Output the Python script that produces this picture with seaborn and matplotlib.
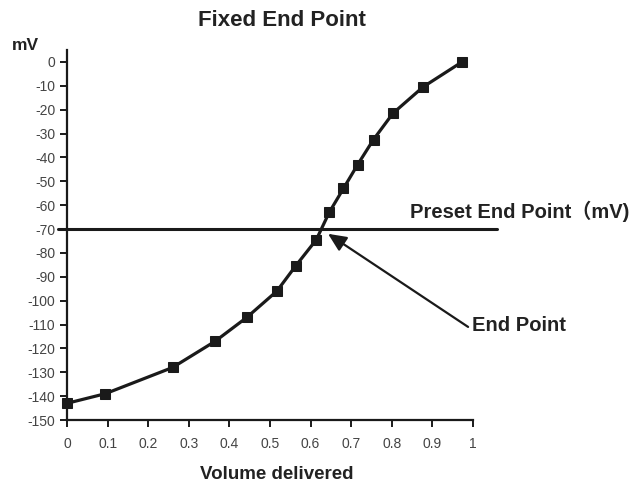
import numpy as np
import pandas as pd
import matplotlib
matplotlib.use("Agg")
import matplotlib.pyplot as plt
import seaborn as sns

# titration curve
volume = [0.0, 0.094, 0.26, 0.365, 0.443, 0.517, 0.563, 0.614, 0.646, 0.681,
          0.716, 0.755, 0.803, 0.877, 0.973]
mv = [-143, -139, -128, -117, -107, -96, -85.5, -74.5, -63, -53,
      -43, -32.5, -21.5, -10.5, 0]
preset_end_point = -70
end_point = (0.643, -72)
end_point_label = (0.988, -111)

x_ticks = [0, 0.1, 0.2, 0.3, 0.4, 0.5, 0.6, 0.7, 0.8, 0.9, 1]
x_tick_labels = ["0", "0.1", "0.2", "0.3", "0.4", "0.5", "0.6", "0.7", "0.8", "0.9", "1"]
y_ticks = list(range(0, -151, -10))

df = pd.DataFrame({"Volume": volume, "mV": mv})

sns.set_style("ticks")
plt.rcParams["font.family"] = ["Liberation Sans", "Noto Sans CJK JP", "DejaVu Sans"]
plt.rcParams["axes.unicode_minus"] = False

fig = plt.figure(figsize=(6.34, 4.84), dpi=100)
ax = fig.add_axes([0.1057, 0.1322, 0.6403, 0.7645])

sns.lineplot(data=df, x="Volume", y="mV", ax=ax, color="#1a1a1a", linewidth=2.3,
             marker="s", markersize=7, markeredgecolor="#1a1a1a",
             markerfacecolor="#1a1a1a", clip_on=False, zorder=4)

# preset end point line, runs past the axis on the right
ax.plot([-0.022, 1.06], [preset_end_point, preset_end_point], color="#1a1a1a",
        linewidth=2.2, clip_on=False, zorder=3)

# arrow to the end point, then its label
ax.annotate("", xy=end_point, xytext=end_point_label, annotation_clip=False,
            arrowprops=dict(arrowstyle="-|>,head_length=1.1,head_width=0.5",
                            color="#1a1a1a", lw=1.6, shrinkA=0, shrinkB=0))
ax.text(end_point_label[0] + 0.01, end_point_label[1] + 0.5, "End Point", fontsize=14.5,
        fontweight="bold", color="#222222", va="center", ha="left", clip_on=False)

ax.set_xlim(0, 1)
ax.set_ylim(-150, 5)
ax.set_xticks(x_ticks)
ax.set_xticklabels(x_tick_labels)
ax.set_yticks(y_ticks)
ax.set_xlabel("")
ax.set_ylabel("")
ax.tick_params(axis="both", labelsize=10, labelcolor="#444444", width=1.4,
               length=5, color="#1a1a1a")
ax.tick_params(axis="x", pad=7)
for side in ["left", "bottom"]:
    ax.spines[side].set_linewidth(1.6)
    ax.spines[side].set_color("#1a1a1a")
sns.despine(ax=ax)

fig.text(0.444, 0.958, "Fixed End Point", fontsize=16, fontweight="bold",
         color="#222222", ha="center", va="center")
fig.text(0.437, 0.02, "Volume delivered", fontsize=13.5, fontweight="bold",
         color="#222222", ha="center", va="center")
fig.text(0.018, 0.905, "mV", fontsize=12.5, fontweight="bold", color="#222222",
         ha="left", va="center")
fig.text(0.647, 0.564, "Preset End Point（mV)", fontsize=14.5, fontweight="bold",
         color="#222222", ha="left", va="center")

fig.savefig("out.png", dpi=100)
